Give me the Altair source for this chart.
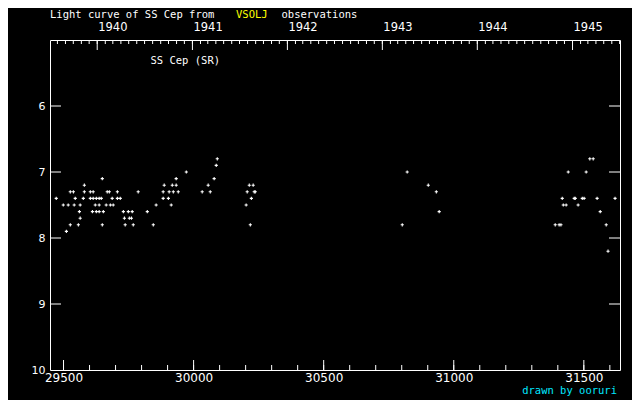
import datetime as dt
import altair as alt
import pandas as pd

# ---- data (JD - 2400000, visual magnitude) ----
jd_68 = [30091, 31523, 31536]
jd_69 = [30087]
jd_70 = [29972, 30821, 31440, 31509]
jd_71 = [29649, 29933, 30079]
jd_72 = [29580, 29887, 29918, 29933, 30056, 30214, 30229, 30902]
jd_73 = [29526, 29538, 29580, 29603, 29614, 29668, 29676, 29707, 29787, 29883,
         29906, 29922, 29941, 30033, 30064, 30206, 30233, 30237, 30933]
jd_74 = [29472, 29545, 29576, 29603, 29614, 29626, 29637, 29645, 29687, 29707,
         29718, 29883, 29903, 30222, 31417, 31463, 31467, 31494, 31501, 31551, 31620]
jd_75 = [29499, 29518, 29541, 29564, 29622, 29637, 29664, 29680, 29691, 29856,
         29914, 30202, 31421, 31432, 31478]
jd_76 = [29561, 29611, 29626, 29637, 29653, 29730, 29749, 29764, 29822, 30944, 31563]
jd_77 = [29564, 29734, 29753, 29761]
jd_78 = [29526, 29557, 29649, 29737, 29768, 29845, 30218, 30802, 31390, 31405, 31412, 31586]
jd_79 = [29511]
jd_82 = [31593]

groups = [(6.8, jd_68), (6.9, jd_69), (7.0, jd_70), (7.1, jd_71), (7.2, jd_72),
          (7.3, jd_73), (7.4, jd_74), (7.5, jd_75), (7.6, jd_76), (7.7, jd_77),
          (7.8, jd_78), (7.9, jd_79), (8.2, jd_82)]

jd_major = [29500, 30000, 30500, 31000, 31500]
jd_minor = [29500, 29600, 29700, 29800, 29900, 30000, 30100, 30200, 30300, 30400,
            30500, 30600, 30700, 30800, 30900, 31000, 31100, 31200, 31300, 31400,
            31500, 31600]
years = [1940, 1941, 1942, 1943, 1944, 1945]
mag_ticks = [6, 7, 8, 9]
mag_labels = [6, 7, 8, 9, 10]

X_DOMAIN = [29448, 31639]
Y_DOMAIN = [5, 10]


def jd_of(y, m, d=1):
    return dt.date(y, m, d).toordinal() + 1721424.5 - 2400000


rows = []
for m, lst in groups:
    for j in lst:
        rows.append({"jd": j, "mag": m})
obs = pd.DataFrame(rows)

year_df = pd.DataFrame({"jd": [jd_of(y, 1) for y in years], "label": [str(y) for y in years]})
month_jd = []
for y in range(1939, 1946):
    for mo in range(1, 13):
        v = jd_of(y, mo)
        if X_DOMAIN[0] < v < X_DOMAIN[1]:
            month_jd.append(v)
month_df = pd.DataFrame({"jd": month_jd})
major_df = pd.DataFrame({"jd": jd_major})
minor_df = pd.DataFrame({"jd": jd_minor})
ytick_df = pd.DataFrame({"mag": mag_ticks})

FONT = "DejaVu Sans"
MONO = "DejaVu Sans Mono"
W, H = 570, 330

xs = alt.Scale(domain=X_DOMAIN, nice=False, zero=False)
ys = alt.Scale(domain=Y_DOMAIN, reverse=True, nice=False, zero=False)

PLUS = "M-1,-0.34H1V0.34H-1ZM-0.34,-1H0.34V1H-0.34Z"

points = alt.Chart(obs).mark_point(
    shape=PLUS, filled=True, color="white", opacity=1, size=10
).encode(
    x=alt.X("jd:Q", scale=xs, title=None,
            axis=alt.Axis(values=jd_major, format="d", ticks=False, domain=False, grid=False,
                          labelColor="white", labelFont=FONT, labelFontSize=12,
                          labelPadding=2, labelFlush=False)),
    y=alt.Y("mag:Q", scale=ys, title=None,
            axis=alt.Axis(values=mag_labels, format="d", ticks=False, domain=False, grid=False,
                          labelColor="white", labelFont=FONT, labelFontSize=11,
                          labelPadding=5, labelFlush=False, labelOverlap=False)),
)


def xrule(df, y0, y1):
    return alt.Chart(df).mark_rule(color="white", strokeWidth=1).encode(
        x=alt.X("jd:Q", scale=xs), y=alt.value(y0), y2=alt.value(y1))


def yrule(x0, x1):
    return alt.Chart(ytick_df).mark_rule(color="white", strokeWidth=1).encode(
        y=alt.Y("mag:Q", scale=ys), x=alt.value(x0), x2=alt.value(x1))


def label(text, px, py, color="white", align="left", baseline="alphabetic",
          size=10.5, font=MONO):
    return alt.Chart(pd.DataFrame({"t": [text]})).mark_text(
        align=align, baseline=baseline, font=font, fontSize=size, color=color
    ).encode(x=alt.value(px), y=alt.value(py), text="t:N")


year_text = alt.Chart(year_df).mark_text(
    align="left", baseline="alphabetic", font=FONT, fontSize=11.5, color="white", dx=1
).encode(x=alt.X("jd:Q", scale=xs), y=alt.value(-8.6), text="label:N")

chart = alt.layer(
    points,
    xrule(major_df, H, H - 10),
    xrule(minor_df, H, H - 5),
    xrule(year_df, 0, 10),
    xrule(month_df, 0, 4),
    yrule(0, 11),
    yrule(W - 11, W),
    year_text,
    label("Light curve of SS Cep from", 0, -22.3),
    label("VSOLJ", 186, -22.3, "#ffff00"),
    label("observations", 231.5, -22.3),
    label("SS Cep (SR)", 100.5, 23.5),
    label("drawn by ooruri", 567, 354, "#00e8ff", "right"),
).properties(
    width=W, height=H,
    padding={"left": 42, "top": 32, "right": 12, "bottom": 30},
    autosize="none",
    background="black",
).configure_view(stroke="white", strokeWidth=1, fill="black")

chart.save("out.html", embed_options={"renderer": "svg", "actions": False})
